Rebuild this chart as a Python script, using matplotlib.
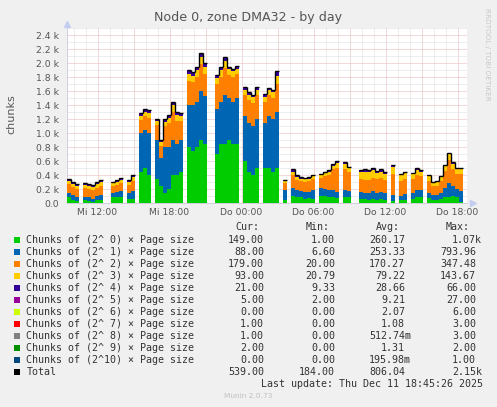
import numpy as np
import matplotlib
matplotlib.use("Agg")
import matplotlib.pyplot as plt
from matplotlib.patches import Rectangle

W, H = 497, 407

# sample grid: 20 min per sample, starting Wed 09:27 (hours since Wed 00:00)
t_start = 9.458
dt = 1.0 / 3.0
N = None

# values per sample (chunks), None = no data
g = [80, 50, 30, N, 40, 30, 20, 40, 50, N, N, 80, 90, 90, N, 60, 60, N, 450, 500,
     400, N, 350, 250, 150, 200, 400, 400, 450, N, 800, 750, 800, 900, 850, N, N, 700, 850, 850,
     900, 850, 850, N, 600, 450, 400, 500, N, 500, 500, 450, 500, N, 50, N, 100, 80, 80, 60,
     70, 60, N, 100, 100, 80, 80, 70, N, 90, 80, N, N, 60, 60, 50, 60, 50, 60, 50,
     N, 30, N, 40, 50, N, 60, 80, 90, N, 70, 50, 50, 60, 80, 90, 100, 80, 20, N]
b = [70, 60, 60, N, 50, 60, 40, 60, 70, N, N, 60, 70, 80, N, 80, 110, N, 550, 550,
     600, N, 550, 400, 650, 600, 500, 450, 450, N, 600, 650, 650, 700, 680, N, N, 650, 600, 700,
     600, 600, 650, N, 650, 700, 700, 700, N, 650, 750, 750, 800, N, 130, N, 120, 100, 90, 100,
     90, 120, N, 110, 100, 100, 100, 90, N, 100, 90, N, N, 100, 90, 100, 110, 90, 100, 90,
     N, 90, N, 60, 80, N, 80, 100, 90, N, 80, 70, 70, 90, 130, 200, 150, 120, 150, N]
o = [120, 120, 110, N, 120, 110, 120, 120, 130, N, N, 100, 100, 110, N, 120, 150, N, 180, 200,
     220, N, 220, 170, 300, 350, 400, 320, 270, N, 350, 330, 350, 380, 320, N, N, 350, 350, 380,
     330, 350, 340, N, 300, 320, 330, 350, N, 300, 300, 300, 400, N, 100, N, 180, 150, 140, 140,
     150, 160, N, 150, 180, 220, 300, 340, N, 300, 270, N, N, 180, 180, 180, 190, 200, 200, 190,
     N, 300, N, 220, 220, N, 200, 220, 200, N, 170, 120, 130, 160, 250, 320, 240, 220, 250, N]
y = [45, 40, 45, N, 50, 45, 45, 45, 50, N, N, 40, 40, 45, N, 45, 50, N, 60, 50,
     70, N, 50, 50, 60, 70, 100, 90, 70, N, 100, 90, 100, 110, 100, N, N, 90, 100, 100,
     80, 80, 80, N, 70, 70, 80, 70, N, 70, 70, 80, 120, N, 30, N, 50, 45, 40, 40,
     40, 40, N, 40, 45, 45, 50, 70, N, 70, 55, N, N, 100, 120, 110, 110, 90, 90, 80,
     N, 100, N, 80, 80, N, 70, 75, 70, N, 60, 45, 55, 55, 70, 90, 70, 60, 60, N]
p = [30, 25, 20, N, 25, 25, 25, 25, 30, N, N, 20, 20, 25, N, 25, 30, N, 30, 30,
     30, N, 25, 25, 30, 30, 30, 30, 30, N, 40, 40, 40, 50, 40, N, N, 30, 40, 40,
     30, 30, 30, N, 30, 30, 30, 30, N, 30, 20, 30, 50, N, 15, N, 25, 20, 15, 15,
     15, 15, N, 15, 20, 20, 25, 25, N, 25, 20, N, N, 25, 25, 25, 25, 25, 25, 25,
     N, 15, N, 15, 15, N, 15, 20, 15, N, 15, 10, 10, 10, 15, 15, 15, 15, 15, N]
m = [5, 5, 5, N, 5, 5, 5, 5, 5, N, N, 5, 5, 5, N, 5, 5, N, 10, 10,
     10, N, 5, 5, 10, 10, 10, 10, 10, N, 10, 10, 10, 10, 10, N, N, 10, 10, 10,
     10, 10, 10, N, 10, 10, 10, 10, N, 10, 10, 10, 10, N, 5, N, 5, 5, 5, 5,
     5, 5, N, 5, 5, 5, 5, 5, N, 5, 5, N, N, 5, 5, 5, 5, 5, 5, 5,
     N, 5, N, 5, 5, N, 5, 5, 5, N, 5, 5, 5, 5, 5, 5, 5, 5, 5, N]

names = ["Chunks of (2^ 0) \u00d7 Page size", "Chunks of (2^ 1) \u00d7 Page size",
         "Chunks of (2^ 2) \u00d7 Page size", "Chunks of (2^ 3) \u00d7 Page size",
         "Chunks of (2^ 4) \u00d7 Page size", "Chunks of (2^ 5) \u00d7 Page size",
         "Chunks of (2^ 6) \u00d7 Page size", "Chunks of (2^ 7) \u00d7 Page size",
         "Chunks of (2^ 8) \u00d7 Page size", "Chunks of (2^ 9) \u00d7 Page size",
         "Chunks of (2^10) \u00d7 Page size", "Total"]
colors = ["#00cc00", "#0066b3", "#ff8000", "#ffcc00", "#330099", "#990099",
          "#ccff00", "#ff0000", "#808080", "#008f00", "#00487d", "#000000"]
cur = ["149.00", "88.00", "179.00", "93.00", "21.00", "5.00", "0.00", "1.00", "1.00", "2.00", "0.00", "539.00"]
mins = ["1.00", "6.60", "20.00", "20.79", "9.33", "2.00", "0.00", "0.00", "0.00", "0.00", "0.00", "184.00"]
avgs = ["260.17", "253.33", "170.27", "79.22", "28.66", "9.21", "2.07", "1.08", "512.74m", "1.31", "195.98m", "806.04"]
maxs = ["1.07k", "793.96", "347.48", "143.67", "66.00", "27.00", "6.00", "3.00", "3.00", "2.00", "1.00", "2.15k"]

yticks = [0, 200, 400, 600, 800, 1000, 1200, 1400, 1600, 1800, 2000, 2200, 2400]
ylabels = ["0.0", "0.2 k", "0.4 k", "0.6 k", "0.8 k", "1.0 k", "1.2 k", "1.4 k",
           "1.6 k", "1.8 k", "2.0 k", "2.2 k", "2.4 k"]
xticks = [12, 18, 24, 30, 36, 42]
xlabels = ["Mi 12:00", "Mi 18:00", "Do 00:00", "Do 06:00", "Do 12:00", "Do 18:00"]

plt.rcParams["lines.scale_dashes"] = False
txt = "#555555"

fig = plt.figure(figsize=(W / 100, H / 100), dpi=100, facecolor="#f0f0f0")
ax = fig.add_axes([67 / W, 1 - 203 / H, 400 / W, 175 / H])
ax.set_facecolor("white")

t = t_start + dt * np.arange(len(g))
series = [np.array(s, dtype=float) for s in (g, b, o, y, p, m)]
bottom = np.zeros(len(g))
for s, c in zip(series, colors):
    ax.bar(t, s, width=dt, bottom=bottom, align="edge", color=c, linewidth=0,
           antialiased=False, zorder=3)
    bottom = bottom + s
total = bottom

# total line as steps
ok = ~np.isnan(total)
ax.hlines(total[ok], t[ok], t[ok] + dt, color="black", lw=1, zorder=4)
both = ok[:-1] & ok[1:]
ax.vlines(t[1:][both], total[:-1][both], total[1:][both], color="black", lw=1, zorder=4)

ax.set_xlim(t_start, t_start + 400 / 12)
ax.set_ylim(0, 2500)

ax.set_yticks(yticks)
ax.set_yticklabels(ylabels)
ax.set_yticks(np.arange(100, 2500, 200), minor=True)
ax.set_xticks(xticks)
ax.set_xticklabels(xlabels)
ax.set_xticks([h for h in range(10, 43) if h % 3 != 0], minor=True)
ax.tick_params(which="both", length=0, colors=txt, labelsize=6.7)
ax.tick_params(axis="y", pad=5.8)
ax.tick_params(axis="x", pad=3.5)

# grid: hourly / 0.1k minor in gray, 3h / 0.2k major in red
for h in range(10, 43):
    col = "#e6b4b4" if h % 3 == 0 else "#dddddd"
    ax.axvline(h, color=col, lw=0.72, ls=(0, (0.72, 0.72)), zorder=1)
for v in np.arange(100, 2600, 100):
    col = "#e6b4b4" if v % 200 == 0 else "#dddddd"
    ax.axhline(v, color=col, lw=0.72, ls=(0, (0.72, 0.72)), zorder=1)

for side in ("top", "right"):
    ax.spines[side].set_visible(False)
for side in ("left", "bottom"):
    ax.spines[side].set_color("#d0d0dc")
    ax.spines[side].set_linewidth(0.72)
ax.plot([0], [1 + 4 / 175], marker="^", ms=5, color="#c4ccf0", transform=ax.transAxes, clip_on=False)
ax.plot([1 + 6 / 400], [0], marker=">", ms=5, color="#c4ccf0", transform=ax.transAxes, clip_on=False)


def fx(px):
    return px / W


def fy(py):
    return 1 - py / H


fig.text(fx(248.5), fy(18), "Node 0, zone DMA32 - by day", ha="center", va="center",
         fontsize=9.1, color=txt)
fig.text(fx(11), fy(114), "chunks", rotation=90, ha="center", va="center", fontsize=8, color=txt)
fig.text(fx(487), fy(8), "RRDTOOL / TOBI OETIKER", rotation=270, ha="center", va="top",
         fontsize=5.2, color="#c8c8c8")

mono = "DejaVu Sans Mono"
fs = 7.2
lc = "#333333"
for hx, hd in zip([247, 318, 388, 458], ["Cur:", "Min:", "Avg:", "Max:"]):
    fig.text(fx(hx), fy(227), hd, ha="center", va="center", family=mono, fontsize=fs, color=lc)

edges = [270, 341, 411, 482]
for k, name in enumerate(names):
    yy = 240 + 12 * k
    fig.add_artist(Rectangle((fx(14), fy(yy + 3)), 6 / W, 6 / H, transform=fig.transFigure,
                             facecolor=colors[k], edgecolor="none"))
    fig.text(fx(26.5), fy(yy), name, ha="left", va="center", family=mono, fontsize=fs, color=lc)
    for e, col in zip(edges, (cur, mins, avgs, maxs)):
        s = col[k]
        xr = e if s[-1] in "km" else e - 6
        fig.text(fx(xr), fy(yy), s, ha="right", va="center", family=mono, fontsize=fs, color=lc)

fig.text(fx(483), fy(384), "Last update: Thu Dec 11 18:45:26 2025", ha="right", va="center",
         family=mono, fontsize=fs, color=lc)
fig.text(fx(248), fy(396), "Munin 2.0.73", ha="center", va="center", fontsize=5.3, color="#c0c0c0")

fig.savefig("out.png", dpi=100, facecolor=fig.get_facecolor())
